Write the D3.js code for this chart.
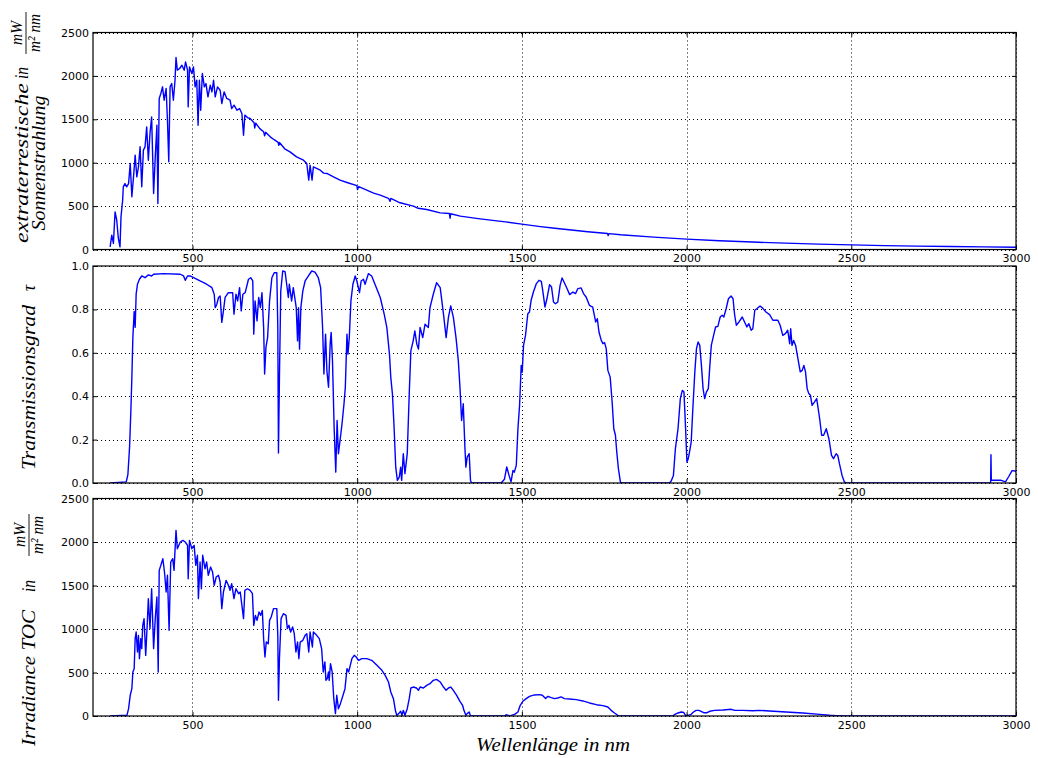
<!DOCTYPE html>
<html><head><meta charset="utf-8">
<script src="https://cdn.jsdelivr.net/npm/d3@7"></script>
<style>
body{margin:0;background:#fff}
svg{display:block}
.tick text{font-family:"DejaVu Sans",sans-serif;font-size:11px;fill:#000}
.lab{font-family:"Liberation Serif",serif;font-style:italic;fill:#000}
</style></head><body>
<svg id="c" width="1038" height="758"></svg>
<script>
const xTicks = [500, 1000, 1500, 2000, 2500, 3000];
const irrTicks = [0, 500, 1000, 1500, 2000, 2500];
const trTicks = [0, 0.2, 0.4, 0.6, 0.8, 1.0];

const wlET = [250,255,260,265,270,275,280,283,288,290,295,300,306,311,316,321,326,331,336,341,346,351,356,361,366,371,376,382,387,392,395,399,404,409,414,420,424,428,432,437,442,447,450,454,461,468,475,479,485,487,491,498,503,508,513,517,521,525,530,536,541,547,554,559,564,569,576,584,589,596,604,614,619,626,635,643,650,655,659,667,675,687,689,692,705,716,719,722,736,748,760,762,764,780,796,816,837,847,853,857,863,867,888,898,908,928,948,969,999,1001,1005,1029,1050,1070,1095,1100,1102,1130,1171,1185,1211,1252,1280,1282,1284,1313,1373,1450,1500,1550,1600,1650,1700,1760,1762,1764,1800,1900,2000,2100,2200,2300,2400,2500,2600,2700,2800,2900,3000];
const etValues = [30,165,70,434,340,127,30,376,568,722,760,722,760,990,607,837,1087,837,952,1183,722,1145,1183,1413,1029,1336,1528,645,1067,1432,530,1740,1797,1874,1720,1855,1490,1010,1874,1912,1720,1950,2212,2066,2085,2123,2066,2162,2066,1643,2104,2027,2104,1874,1950,1432,1950,1605,2027,1874,1912,1759,1893,1816,1950,1759,1874,1835,1682,1816,1740,1720,1624,1663,1605,1624,1567,1317,1548,1520,1509,1460,1400,1455,1390,1356,1310,1350,1298,1265,1235,1200,1232,1160,1125,1067,1029,991,799,972,799,952,914,880,876,837,799,772,735,690,725,684,650,626,590,555,588,538,499,475,461,422,415,360,412,384,353,318,292,267,245,225,205,185,160,183,170,143,120,101,86,73,62,53,45,39,34,30,26];

const wlTr = [250,299,304,309,313,316,319,323,326,329,333,339,346,356,366,376,382,412,463,473,478,485,493,508,523,543,559,566,569,574,579,584,589,594,599,609,622,626,632,637,643,648,653,660,670,677,683,686,690,696,701,706,711,716,719,723,728,734,741,748,756,759,761,764,768,774,781,786,791,794,801,806,815,819,822,825,829,835,842,852,862,872,882,889,895,899,904,908,913,918,921,925,930,935,939,943,948,954,960,964,969,972,976,981,987,994,999,1007,1012,1019,1024,1034,1044,1054,1070,1082,1090,1098,1102,1107,1112,1117,1122,1128,1132,1135,1140,1145,1152,1158,1163,1170,1175,1181,1186,1191,1199,1206,1216,1221,1231,1241,1252,1262,1270,1277,1284,1292,1300,1307,1312,1317,1322,1327,1330,1334,1340,1344,1347,1437,1447,1454,1461,1467,1473,1477,1483,1488,1493,1498,1501,1505,1511,1518,1523,1528,1535,1544,1552,1559,1564,1570,1576,1584,1590,1596,1602,1609,1616,1622,1630,1637,1645,1655,1663,1670,1680,1687,1695,1705,1715,1724,1729,1734,1741,1746,1751,1756,1761,1768,1774,1779,1784,1788,1793,1799,1802,1948,1953,1960,1966,1974,1981,1987,1992,1997,2001,2005,2009,2014,2019,2025,2030,2035,2040,2045,2050,2055,2060,2066,2070,2075,2082,2088,2095,2102,2108,2113,2120,2127,2135,2141,2146,2151,2159,2169,2176,2183,2189,2196,2201,2207,2213,2223,2231,2241,2252,2262,2277,2284,2292,2300,2307,2313,2316,2320,2325,2331,2338,2345,2351,2356,2361,2366,2371,2376,2381,2388,2395,2404,2410,2416,2424,2432,2440,2446,2454,2459,2464,2472,2479,2485,2923,2924,2925,2933,2953,2968,2978,2988,2998,3000];
const trValues = [0,0.005,0.04,0.165,0.334,0.487,0.67,0.79,0.717,0.87,0.916,0.939,0.954,0.946,0.959,0.954,0.962,0.965,0.962,0.954,0.934,0.954,0.954,0.943,0.931,0.916,0.9,0.87,0.808,0.824,0.855,0.862,0.74,0.793,0.855,0.877,0.877,0.778,0.87,0.839,0.9,0.793,0.87,0.877,0.939,0.946,0.931,0.686,0.839,0.747,0.855,0.808,0.877,0.717,0.502,0.625,0.67,0.839,0.946,0.969,0.969,0.717,0.138,0.487,0.885,0.977,0.974,0.916,0.855,0.916,0.839,0.9,0.808,0.655,0.808,0.617,0.808,0.885,0.931,0.954,0.977,0.972,0.946,0.9,0.717,0.502,0.686,0.518,0.441,0.64,0.694,0.564,0.257,0.05,0.288,0.135,0.196,0.273,0.365,0.441,0.686,0.594,0.67,0.839,0.916,0.954,0.931,0.877,0.931,0.939,0.916,0.965,0.954,0.916,0.855,0.778,0.717,0.594,0.487,0.41,0.257,0.073,0.012,0.028,0.073,0.012,0.135,0.043,0.135,0.41,0.61,0.655,0.701,0.64,0.617,0.717,0.67,0.732,0.717,0.808,0.87,0.923,0.9,0.778,0.67,0.763,0.816,0.763,0.67,0.564,0.441,0.288,0.365,0.165,0.073,0.119,0.135,0.012,0,0,0.017,0.074,0.035,0.005,0.058,0.05,0.081,0.25,0.358,0.542,0.511,0.634,0.68,0.78,0.788,0.842,0.88,0.919,0.934,0.929,0.88,0.811,0.849,0.914,0.903,0.834,0.826,0.834,0.911,0.945,0.919,0.896,0.868,0.88,0.873,0.896,0.899,0.873,0.857,0.819,0.811,0.742,0.757,0.696,0.657,0.642,0.647,0.619,0.519,0.488,0.373,0.25,0.22,0.143,0.066,0.005,0,0,0.008,0.035,0.158,0.25,0.389,0.427,0.419,0.25,0.097,0.112,0.143,0.189,0.343,0.512,0.619,0.65,0.634,0.542,0.435,0.389,0.419,0.435,0.527,0.634,0.68,0.719,0.722,0.765,0.773,0.765,0.803,0.849,0.862,0.849,0.773,0.727,0.742,0.765,0.742,0.719,0.734,0.704,0.711,0.796,0.803,0.816,0.806,0.788,0.776,0.75,0.75,0.727,0.68,0.688,0.704,0.642,0.711,0.634,0.657,0.634,0.573,0.512,0.519,0.542,0.512,0.435,0.412,0.404,0.358,0.373,0.389,0.296,0.22,0.22,0.25,0.204,0.127,0.112,0.135,0.127,0.089,0.035,0.005,0,0,0.13,0.013,0.013,0.013,0.005,0.03,0.057,0.055,0.05];

const wlToc = [250,301,306,311,316,319,323,326,329,333,336,339,343,346,349,353,358,363,366,371,376,382,387,392,396,399,404,410,415,420,424,429,434,440,444,450,454,463,471,478,485,487,491,498,505,510,515,518,523,527,531,538,543,548,555,561,566,572,579,584,589,594,602,609,614,619,626,632,640,645,650,655,659,667,675,682,686,691,696,702,707,712,716,720,724,730,734,739,746,756,759,761,764,769,776,784,788,793,798,804,809,814,819,823,827,835,842,847,853,857,864,867,877,885,892,897,902,905,909,913,915,919,924,929,934,938,943,949,957,963,969,974,979,984,991,997,1004,1014,1029,1044,1060,1075,1085,1095,1102,1110,1116,1120,1126,1132,1136,1140,1145,1152,1158,1163,1170,1180,1186,1191,1201,1211,1221,1231,1241,1252,1262,1270,1277,1284,1292,1302,1312,1320,1324,1330,1334,1340,1344,1448,1452,1463,1478,1488,1495,1503,1513,1523,1538,1554,1562,1572,1579,1589,1599,1609,1619,1629,1645,1665,1685,1705,1726,1746,1761,1771,1781,1791,1797,1958,1963,1974,1984,1991,1997,2004,2014,2021,2029,2037,2044,2052,2062,2070,2085,2110,2136,2146,2171,2201,2222,2252,2302,2353,2404,2434,2454,2485,3000];
const tocValues = [0,8,84,238,314,506,544,889,965,736,927,659,889,774,1042,1119,697,1080,1349,1004,1463,774,1119,1368,506,1674,1732,1808,1655,1425,1617,985,1770,1808,1674,2134,1923,2000,2019,2000,1961,1578,2019,1923,1961,1732,1847,1349,1770,1463,1847,1693,1770,1617,1712,1655,1502,1598,1617,1540,1234,1425,1559,1502,1444,1521,1349,1463,1406,1425,1272,1119,1444,1463,1444,1406,1042,1157,1099,1195,1157,1214,889,678,850,831,1099,1138,1234,1234,927,180,659,1119,1176,1157,1004,1042,965,1023,946,736,850,659,850,870,927,946,736,965,793,965,927,889,774,506,621,410,429,506,410,601,506,199,27,238,84,142,238,314,544,506,582,659,697,678,640,659,659,640,582,525,467,391,276,199,65,8,27,54,8,65,8,84,199,322,333,322,295,333,322,352,371,410,421,391,333,295,322,333,295,238,169,123,65,8,27,46,0,0,15,0,19,46,123,169,200,226,242,246,238,200,226,211,200,207,219,200,196,188,173,150,130,119,104,65,35,8,0,0,15,35,46,42,4,8,19,46,65,65,54,38,38,54,65,69,77,65,65,61,65,58,46,35,19,8,4,0,0];

const svg = d3.select('#c');
const x = d3.scaleLinear().domain([198, 3000]).range([93, 1016]);

function panel(id, yDomain, yRange, yTicks, yFmt, wl, vals) {
  const y = d3.scaleLinear().domain(yDomain).range(yRange);
  const g = svg.append('g');
  const top = yRange[1], bot = yRange[0];
  g.append('clipPath').attr('id', 'clip' + id).append('rect')
    .attr('x', x.range()[0]).attr('y', top).attr('width', x.range()[1] - x.range()[0]).attr('height', bot - top);
  const grid = g.append('g').attr('stroke', '#000').attr('stroke-width', 1).attr('stroke-dasharray', '1,3');
  grid.selectAll('line.v').data(xTicks).join('line').attr('class', 'v')
    .attr('x1', d => Math.round(x(d)) + 0.5).attr('x2', d => Math.round(x(d)) + 0.5).attr('y1', top).attr('y2', bot);
  grid.selectAll('line.h').data(yTicks).join('line').attr('class', 'h')
    .attr('x1', x.range()[0]).attr('x2', x.range()[1]).attr('y1', d => Math.round(y(d)) + 0.5).attr('y2', d => Math.round(y(d)) + 0.5);
  g.append('path').datum(d3.zip(wl, vals))
    .attr('clip-path', 'url(#clip' + id + ')')
    .attr('fill', 'none').attr('stroke', '#0000ff').attr('stroke-width', 1.4).attr('stroke-linejoin', 'round')
    .attr('d', d3.line().x(d => x(d[0])).y(d => y(d[1])));
  g.append('rect').attr('x', x.range()[0]).attr('y', top).attr('width', x.range()[1] - x.range()[0]).attr('height', bot - top)
    .attr('fill', 'none').attr('stroke', '#000').attr('stroke-width', 1.2);
  const ax = (axis, tr) => {
    const a = g.append('g').attr('transform', tr).call(axis);
    a.select('.domain').remove();
    a.selectAll('.tick line').attr('stroke', '#000');
    return a;
  };
  ax(d3.axisBottom(x).tickValues(xTicks).tickSizeInner(-4).tickSizeOuter(0).tickPadding(5).tickFormat(d3.format('d')), `translate(0,${bot})`);
  ax(d3.axisTop(x).tickValues(xTicks).tickSizeInner(-4).tickSizeOuter(0).tickFormat(''), `translate(0,${top})`);
  ax(d3.axisLeft(y).tickValues(yTicks).tickSizeInner(-4).tickSizeOuter(0).tickPadding(4).tickFormat(yFmt), `translate(${x.range()[0]},0)`);
  ax(d3.axisRight(y).tickValues(yTicks).tickSizeInner(-4).tickSizeOuter(0).tickFormat(''), `translate(${x.range()[1]},0)`);
}

panel(1, [0, 2500], [249.5, 32.5], irrTicks, d3.format('d'), wlET, etValues);
panel(2, [0, 1], [483, 266], trTicks, d3.format('.1f'), wlTr, trValues);
panel(3, [0, 2500], [716, 498.5], irrTicks, d3.format('d'), wlToc, tocValues);

function vtext(px, py, str, size, anchor, len) {
  const t = svg.append('text').attr('class', 'lab')
    .attr('transform', `translate(${px},${py}) rotate(-90)`)
    .attr('text-anchor', anchor || 'middle').attr('font-size', size).text(str);
  if (len) t.attr('textLength', len).attr('lengthAdjust', 'spacingAndGlyphs');
  return t;
}
function frac(px, py, w) {
  vtext(px - 6, py, 'mW', 17, 'middle', 24);
  svg.append('line').attr('x1', px - 2).attr('x2', px - 2).attr('y1', py - w / 2).attr('y2', py + w / 2)
    .attr('stroke', '#000').attr('stroke-width', 0.9);
  vtext(px + 12, py, 'm² nm', 17, 'middle', 38);
}
// top panel label
vtext(28, 243, 'extraterrestische', 19, 'start', 160);
vtext(28, 79, 'in', 19, 'start', 12);
frac(28, 33, 42);
vtext(45, 163, 'Sonnenstrahlung', 19, 'middle', 135);
// middle
vtext(35, 470, 'Transmissionsgrad', 19, 'start', 165);
vtext(35, 288, 'τ', 18, 'middle');
// bottom
vtext(35, 746, 'Irradiance TOC', 19, 'start', 136);
vtext(35, 592, 'in', 19, 'start', 12);
frac(31, 535, 42);
// x label
svg.append('text').attr('class', 'lab').attr('x', 553).attr('y', 751).attr('text-anchor', 'middle')
  .attr('font-size', 19).attr('textLength', 154).attr('lengthAdjust', 'spacingAndGlyphs').text('Wellenlänge in nm');
</script>
</body></html>
